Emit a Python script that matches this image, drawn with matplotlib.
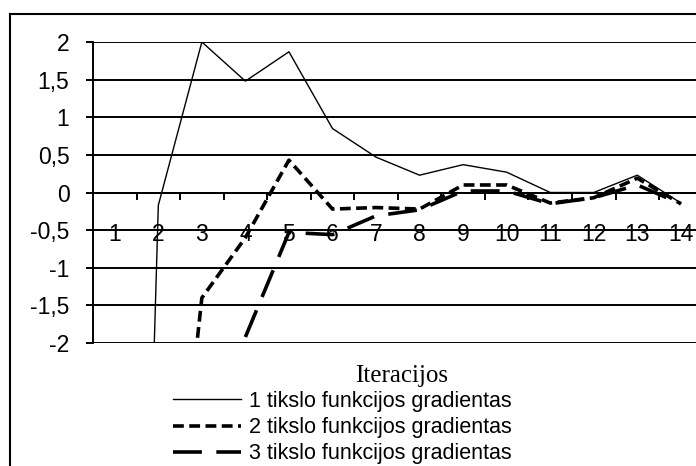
import numpy as np
import matplotlib
matplotlib.use("Agg")
import matplotlib.pyplot as plt
from matplotlib.lines import Line2D

# ---- data ----
categories = list(range(1, 15))
series1 = [-20.0, -0.17, 2.0, 1.48, 1.87, 0.85, 0.47, 0.23, 0.37, 0.27, 0.0, 0.0, 0.23, -0.14]
series2 = [np.nan, -6.7, -1.4, -0.6, 0.43, -0.22, -0.2, -0.22, 0.1, 0.1, -0.14, -0.07, 0.19, -0.15]
series3 = [np.nan, np.nan, np.nan, -1.92, -0.53, -0.56, -0.31, -0.23, 0.02, 0.02, -0.15, -0.07, 0.1, -0.15]
labels = ["1 tikslo funkcijos gradientas",
          "2 tikslo funkcijos gradientas",
          "3 tikslo funkcijos gradientas"]
y_ticks = [-2, -1.5, -1, -0.5, 0, 0.5, 1, 1.5, 2]
y_ticklabels = ["-2", "-1,5", "-1", "-0,5", "0", "0,5", "1", "1,5", "2"]
x_title = "Iteracijos"

plt.rcParams['font.family'] = ['Liberation Sans', 'DejaVu Sans']

W, H = 696, 466
fig = plt.figure(figsize=(W / 100, H / 100), dpi=100)

left_px, right_px = 93, 702.6
top_px, bot_px = 42, 343
ax = fig.add_axes([left_px / W, 1 - bot_px / H, (right_px - left_px) / W, (bot_px - top_px) / H])

ax.plot(categories, series1, color='black', lw=1.0, label=labels[0])
ax.plot(categories, series2, color='black', lw=2.6, dashes=(3.0, 1.5), label=labels[1])
ax.plot(categories, series3, color='black', lw=2.6, dashes=(8.0, 4.0), label=labels[2])

ax.set_xlim(0.5, 14.5)
ax.set_ylim(-2, 2)

# y axis
ax.set_yticks(y_ticks)
ax.set_yticklabels(y_ticklabels)
ax.tick_params(axis='y', direction='out', length=5, width=1.4, pad=12, labelsize=16.5)
ax.yaxis.grid(True, color='black', lw=1.4)
ax.set_axisbelow(True)

# x axis at y = 0
for s in ['top', 'right']:
    ax.spines[s].set_visible(False)
ax.spines['bottom'].set_position(('data', 0))
ax.spines['bottom'].set_linewidth(1.4)
ax.spines['left'].set_linewidth(1.4)
ax.set_xticks(categories)
ax.set_xticklabels([str(c) for c in categories])
ax.set_xticks([c + 0.5 for c in categories[:-1]], minor=True)
ax.tick_params(axis='x', which='major', length=0, pad=22, labelsize=16.5)
ax.tick_params(axis='x', which='minor', direction='out', length=5, width=1.4)

ax.set_xlabel(x_title, fontfamily='Liberation Serif', fontsize=18, va='center')
ax.xaxis.set_label_coords((402 - left_px) / (right_px - left_px), -(376 - bot_px) / (bot_px - top_px))

leg = ax.legend(loc='upper left', bbox_to_anchor=(173 / W, 1 - 391 / H),
                bbox_transform=fig.transFigure, frameon=False, fontsize=15.5,
                handlelength=3.16, handletextpad=0.38, labelspacing=0.24, borderpad=0,
                borderaxespad=0)

# outer chart border (left and top edges visible)
fig.add_artist(Line2D([10 / W, 10 / W], [0, 1 - 14 / H], transform=fig.transFigure, color='black', lw=1.5))
fig.add_artist(Line2D([10 / W, 1.0], [1 - 14 / H, 1 - 14 / H], transform=fig.transFigure, color='black', lw=1.5))

fig.savefig("out.png", dpi=100)
